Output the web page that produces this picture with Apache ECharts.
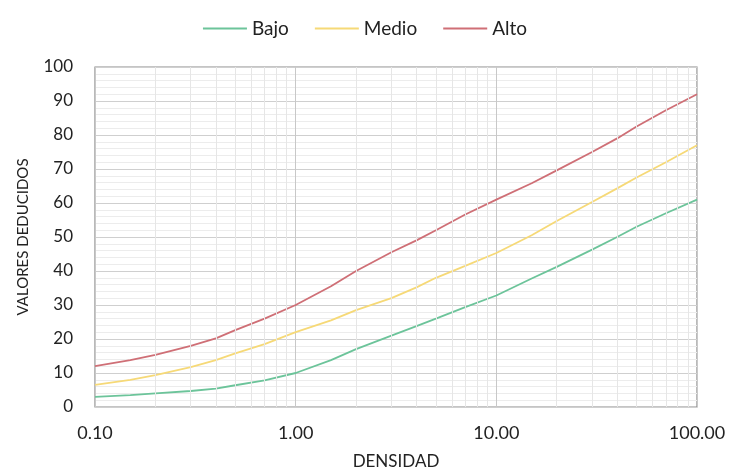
<!DOCTYPE html>
<html>
<head>
<meta charset="utf-8">
<script src="https://cdn.jsdelivr.net/npm/echarts@6/dist/echarts.min.js"></script>
<style>
  html, body { margin: 0; padding: 0; background: #fff; }
  #chart { width: 730px; height: 471px; }
</style>
</head>
<body>
<div id="chart"></div>
<script>
// densidad (eje log) y valores deducidos
var densidad = [0.1, 0.15, 0.2, 0.3, 0.4, 0.5, 0.7, 1, 1.5, 2, 3, 4, 5, 7, 10, 15, 20, 30, 40, 50, 70, 100];
var bajo  = [3.0, 3.5, 4.0, 4.7, 5.4, 6.4, 7.8, 10, 13.8, 17, 21, 23.8, 26, 29.4, 32.8, 37.8, 41.2, 46.3, 50, 53, 57, 61];
var medio = [6.5, 8, 9.4, 11.7, 13.8, 15.8, 18.5, 22, 25.5, 28.5, 32, 35.2, 38, 41.5, 45.3, 50.5, 54.7, 60.3, 64.3, 67.5, 72, 77];
var alto  = [12, 13.8, 15.3, 18, 20.2, 22.6, 26, 30, 35.5, 40, 45.5, 49, 52, 56.6, 61, 65.8, 69.6, 75, 79, 82.5, 87.3, 92];

var font = 'Lato, "Open Sans", sans-serif';

function pares(ys) {
    return densidad.map(function (x, i) { return [x, ys[i]]; });
}

// lineas menores del eje log (2..9 de cada decada)
var menoresX = [];
[0.1, 1, 10].forEach(function (d) {
    for (var k = 2; k <= 9; k++) menoresX.push({ xAxis: +(d * k).toFixed(2) });
});

var myChart = echarts.init(document.getElementById('chart'));
myChart.setOption({
    animation: false,
    textStyle: { fontFamily: font },
    legend: {
        top: 14,
        left: 'center',
        itemWidth: 44,
        itemHeight: 2,
        itemGap: 26,
        icon: 'rect',
        textStyle: { fontSize: 19, color: '#222', fontFamily: font },
        data: ['Bajo', 'Medio', 'Alto']
    },
    grid: {
        left: 95, right: 33, top: 67, bottom: 64,
        containLabel: false,
        outerBoundsMode: 'none',
        show: true, borderColor: '#8c8c8c', borderWidth: 1.2
    },
    xAxis: {
        type: 'log',
        logBase: 10,
        min: 0.1,
        max: 100,
        name: 'DENSIDAD',
        nameLocation: 'middle',
        nameGap: 46,
        nameTextStyle: { fontSize: 17, color: '#222', fontFamily: font },
        axisLine: { show: false },
        axisTick: { show: false },
        axisLabel: {
            fontSize: 18, color: '#222', margin: 17,
            formatter: function (v) { return (+v).toFixed(2); }
        },
        splitLine: { show: true, lineStyle: { color: '#c8c8c8', width: 1 } }
    },
    yAxis: {
        type: 'value',
        min: 0,
        max: 100,
        interval: 10,
        name: 'VALORES DEDUCIDOS',
        nameLocation: 'middle',
        nameGap: 64,
        nameTextStyle: { fontSize: 15, color: '#222', fontFamily: font },
        axisLine: { show: false },
        axisTick: { show: false },
        axisLabel: { fontSize: 17, color: '#222', margin: 22 },
        splitLine: { show: true, lineStyle: { color: '#cfcfcf', width: 1 } },
        minorTick: { show: false, splitNumber: 5 },
        minorSplitLine: { show: true, lineStyle: { color: '#ececec', width: 1 } }
    },
    series: [
        {
            name: 'rejilla',
            type: 'line',
            data: [],
            z: 1,
            silent: true,
            markLine: {
                silent: true,
                symbol: 'none',
                label: { show: false },
                lineStyle: { color: '#e6e6e6', width: 1, type: 'solid' },
                data: menoresX
            }
        },
        {
            name: 'Bajo', type: 'line', data: pares(bajo),
            showSymbol: false,
            itemStyle: { color: '#6cc49a' },
            lineStyle: { color: '#6cc49a', width: 1.8 }
        },
        {
            name: 'Medio', type: 'line', data: pares(medio),
            showSymbol: false,
            itemStyle: { color: '#f6d977' },
            lineStyle: { color: '#f6d977', width: 1.8 }
        },
        {
            name: 'Alto', type: 'line', data: pares(alto),
            showSymbol: false,
            itemStyle: { color: '#cf6f76' },
            lineStyle: { color: '#cf6f76', width: 1.8 }
        }
    ]
});
</script>
</body>
</html>
